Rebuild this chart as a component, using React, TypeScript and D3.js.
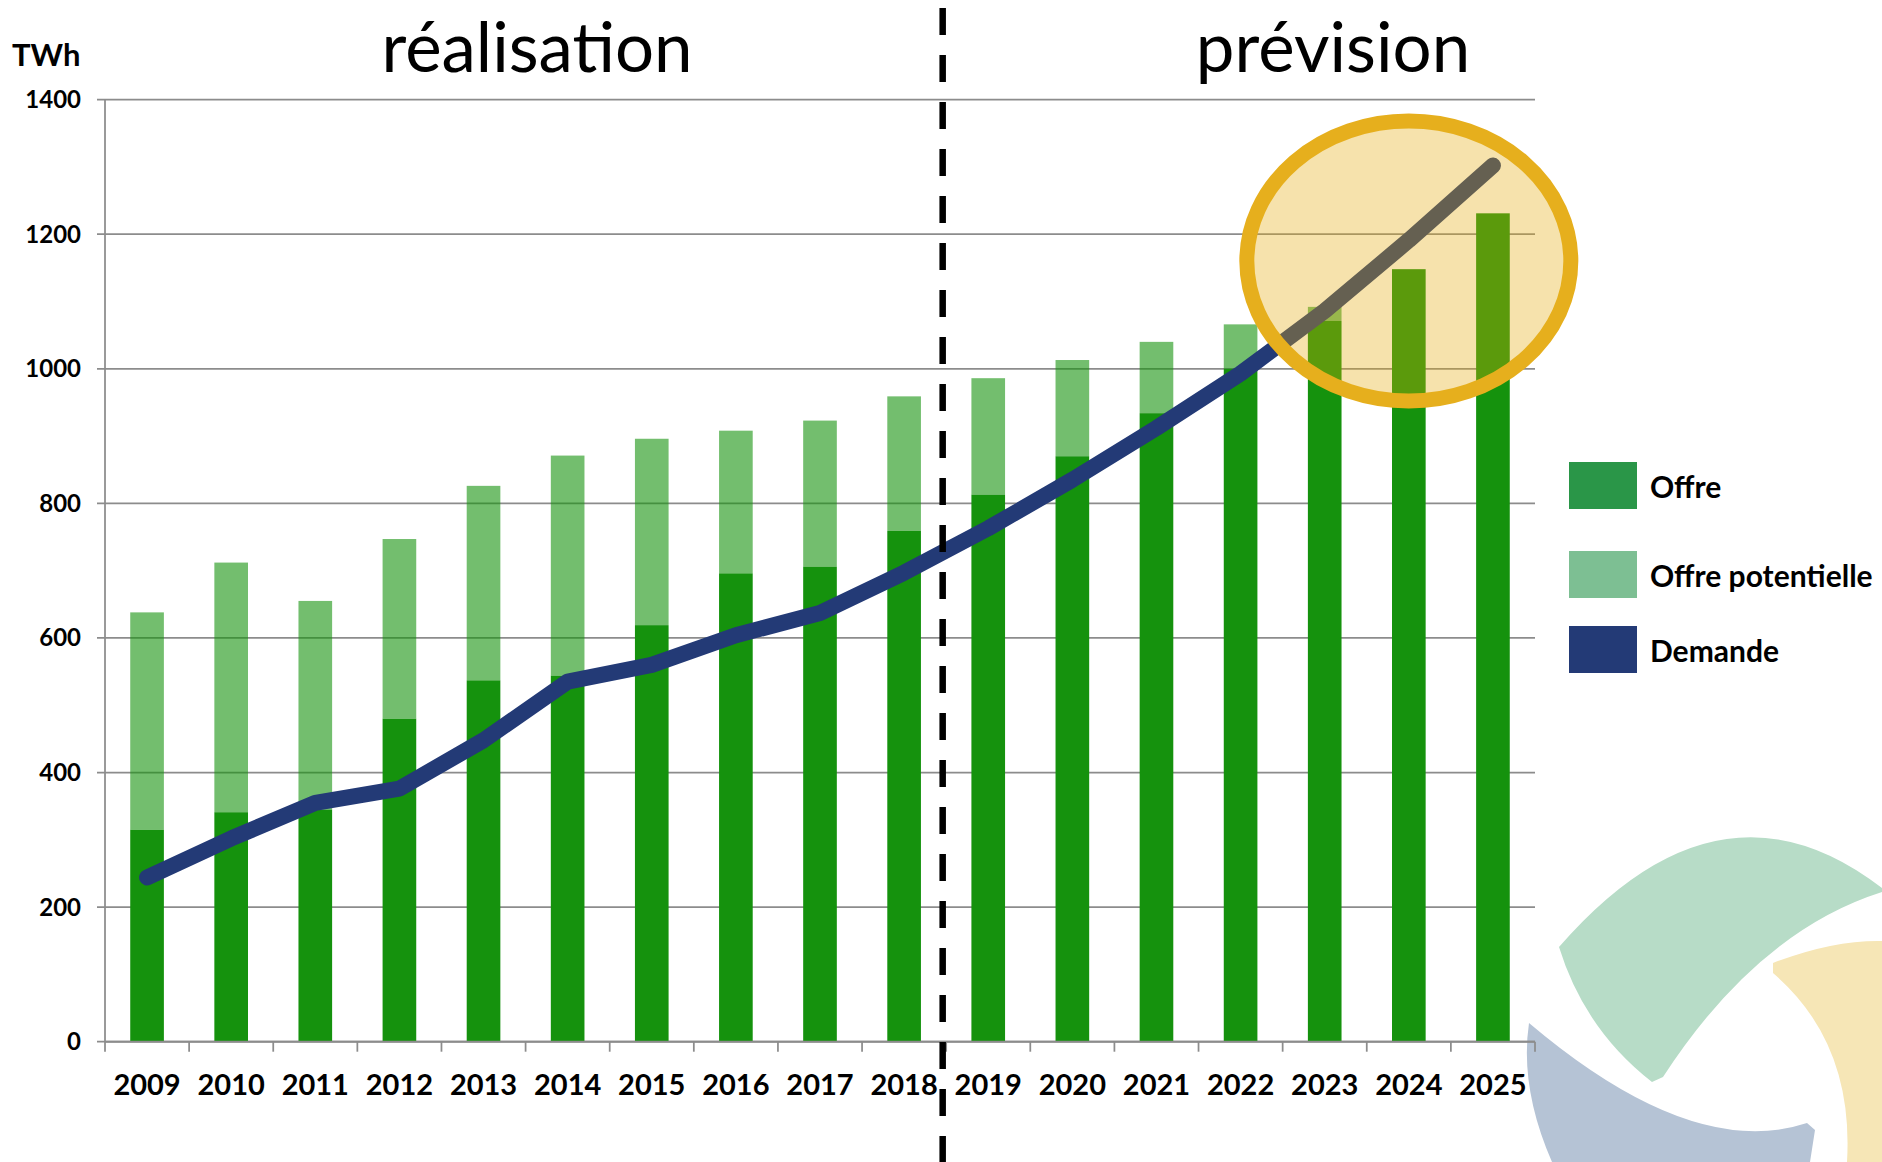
import React from "react";
import * as d3 from "d3";

const years = ["2009", "2010", "2011", "2012", "2013", "2014", "2015", "2016", "2017", "2018", "2019", "2020", "2021", "2022", "2023", "2024", "2025"];
const offre = [315, 341, 345, 480, 537, 544, 619, 696, 706, 759, 813, 870, 934, 1000, 1071, 1148, 1231];
const offrePotentielle = [323, 371, 310, 267, 289, 327, 277, 212, 217, 200, 173, 143, 106, 66, 21, 0, 0];
const demande = [244, 302, 355, 376, 448, 535, 560, 604, 637, 697, 763, 835, 912, 993, 1086, 1191, 1302];
const yTicks = [0, 200, 400, 600, 800, 1000, 1200, 1400];
const legendLabels = ["Offre", "Offre potentielle", "Demande"];
const legendColors = ["#2A9648", "#7DBF93", "#233A76"];

const W = 1882;
const H = 1162;
const FONT = "Lato, 'Open Sans', sans-serif";

const App = () => {
  const x = d3.scaleBand<string>().domain(years).range([105, 1535]).paddingInner(0.6).paddingOuter(0.3);
  const y = d3.scaleLinear().domain([0, 1400]).range([1041.7, 99.6]);
  const bw = x.bandwidth();
  const step = x.step();
  const cx = (yr: string) => (x(yr) as number) + bw / 2;

  const rows = years.map((yr, i) => ({ year: yr, offre: offre[i], potentielle: offrePotentielle[i] }));
  const series = d3.stack<any>().keys(["offre", "potentielle"])(rows);

  const line = d3
    .line<number>()
    .x((_, i) => cx(years[i]))
    .y((d) => y(d));

  // boundary between realised and forecast years
  const split = (x("2019") as number) - (step - bw) / 2 - 3.5;
  const ring = { x: cx("2024"), y: y(1160) };
  const grid = "#8c8c8c";

  return (
    <svg width={W} height={H} style={{ position: "absolute", left: 0, top: 0, background: "#fff" }} fontFamily={FONT}>
      {/* logo in the corner */}
      <g>
        <path d="M1559,947 Q1719.5,762.5 1882,888 L1882,892 Q1757.5,931.5 1663,1077 L1652,1082 Q1584.5,1029.5 1559,947 Z" fill="#B7DCC7" />
        <path d="M1529,1023 Q1692,1161 1807,1123 L1815,1130 L1810,1162 L1552,1162 Q1519.5,1087.5 1529,1023 Z" fill="#B5C3D5" />
        <path d="M1773,963 Q1832.5,940 1882,941 L1882,1162 L1847,1162 Q1854,1042.5 1773,973 Z" fill="#F6E6B6" />
      </g>

      {/* grid */}
      {yTicks.map((t) => (
        <line key={t} x1={97} x2={1535} y1={y(t)} y2={y(t)} stroke={grid} strokeWidth={1.75} />
      ))}
      {yTicks.map((t) => (
        <text key={"l" + t} x={81} y={y(t) + 8.5} textAnchor="end" fontSize={24} fontWeight={700} fill="#000">
          {t}
        </text>
      ))}

      {/* bars */}
      {series.map((s, si) =>
        s.map((d: any, i: number) => (
          <rect
            key={si + "-" + i}
            x={x(years[i])}
            y={y(d[1])}
            width={bw}
            height={Math.max(0, y(d[0]) - y(d[1]))}
            fill="#15920D"
            fillOpacity={si === 0 ? 1 : 0.6}
          />
        ))
      )}

      {/* axes */}
      <line x1={105} x2={105} y1={y(1400)} y2={y(0)} stroke={grid} strokeWidth={1.75} />
      <line x1={105} x2={1535} y1={y(0)} y2={y(0)} stroke={grid} strokeWidth={2} />
      {d3.range(years.length + 1).map((k) => (
        <line key={"t" + k} x1={105 + k * step} x2={105 + k * step} y1={y(0)} y2={y(0) + 10} stroke={grid} strokeWidth={1.75} />
      ))}
      {years.map((yr) => (
        <text key={yr} x={cx(yr)} y={1095} textAnchor="middle" fontSize={29} fontWeight={700} fill="#000">
          {yr}
        </text>
      ))}

      {/* demande */}
      <path d={line(demande) || ""} fill="none" stroke="#233A76" strokeWidth={16} strokeLinejoin="round" strokeLinecap="round" />

      {/* separator */}
      <line x1={split} x2={split} y1={8} y2={H} stroke="#000" strokeWidth={6.5} strokeDasharray="27 20" />

      {/* highlight ring */}
      <ellipse cx={ring.x} cy={ring.y} rx={162} ry={140} fill="#E5AA0C" fillOpacity={0.34} stroke="#E6AF1D" strokeWidth={15} />

      {/* titles */}
      <text x={12} y={66} fontSize={31} fontWeight={700} fill="#000">TWh</text>
      <text x={537} y={72} textAnchor="middle" fontSize={69} fill="#000">réalisation</text>
      <text x={1333} y={72} textAnchor="middle" fontSize={69} fill="#000">prévision</text>

      {/* legend */}
      {legendLabels.map((lab, i) => {
        const top = [462, 551, 626][i];
        return (
          <g key={lab}>
            <rect x={1569} y={top} width={68} height={47} fill={legendColors[i]} />
            <text x={1650} y={top + 36} fontSize={30} fontWeight={700} fill="#000">
              {lab}
            </text>
          </g>
        );
      })}
    </svg>
  );
};

export default App;
